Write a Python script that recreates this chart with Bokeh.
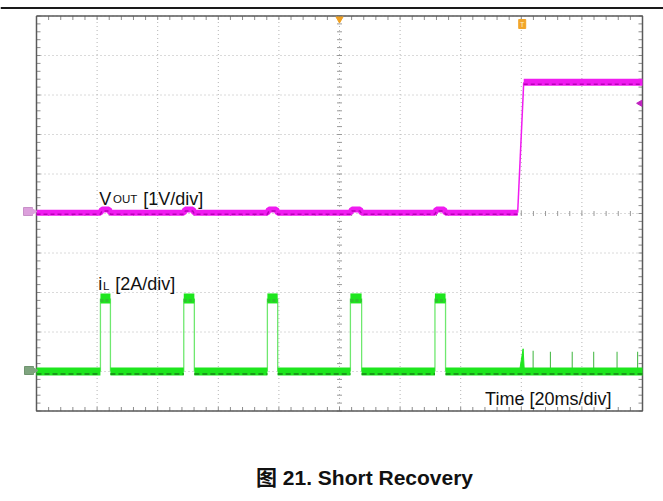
import numpy as np
from bokeh.plotting import figure
from bokeh.models import Range1d, Label
from bokeh.embed import file_html
from bokeh.resources import INLINE

# ---------------- data read from the scope capture ----------------
# horizontal: 20 ms/div, trigger at centre (0 ms), 10 x 10 divisions
time_ticks_ms = [-100, -80, -60, -40, -20, 0, 20, 40, 60, 80, 100]
div_ticks = [-5, -4, -3, -2, -1, 0, 1, 2, 3, 4, 5]
# hiccup pulses of inductor current
pulse_on_ms = [-78.9, -51.4, -23.8, 3.6, 31.5]
pulse_off_ms = [-75.6, -47.9, -20.4, 7.3, 35.0]
pulse_peak_a = [3.7, 3.7, 3.7, 3.7, 3.7]
il_idle_a = 0.0
# output voltage (1 V/div)
vout_short_v = 0.02
vout_bump_v = [0.10, 0.10, 0.10, 0.10, 0.10]
vout_rise_ms = [58.8, 60.8]
vout_final_v = 3.32
# inductor current after recovery
recovery_ms = [59.4, 60.6, 61.0]
recovery_a = [0.0, 1.15, 0.0]
ripple_ms = [63.9, 69.6, 76.8, 83.9, 91.6, 98.4]
ripple_a = [1.05, 1.0, 1.0, 1.0, 1.0, 1.0]
trigger_level_v = 2.79
trigger_mark_ms = 60.3

# channel scaling (divisions)
VOUT_V_PER_DIV, VOUT_OFFSET = 1.0, 0.0
IL_A_PER_DIV, IL_OFFSET = 2.0, -4.0


def vy(v):
    return VOUT_OFFSET + np.asarray(v, dtype=float) / VOUT_V_PER_DIV


def iy(a):
    return IL_OFFSET + np.asarray(a, dtype=float) / IL_A_PER_DIV


# ---------------- geometry (page pixels) ----------------
W, H = 663, 501
GX0, GX1, GY0, GY1 = 36.0, 642.0, 15.5, 410.5
PX_PER_MS = (GX1 - GX0) / 200.0
PX_PER_DIV = (GY1 - GY0) / 10.0


def px_ms(px):
    return px / PX_PER_MS


def px_div(px):
    return px / PX_PER_DIV


def pgx(x):
    return (x - GX0) / PX_PER_MS - 100


def pgy(y):
    return 5 - (y - GY0) / PX_PER_DIV


p = figure(width=W, height=H, output_backend="svg", toolbar_location=None,
           x_range=Range1d(pgx(0), pgx(W)), y_range=Range1d(pgy(H), pgy(0)),
           min_border=0, x_axis_location=None, y_axis_location=None)
p.background_fill_color = "white"
p.border_fill_color = "white"
p.outline_line_color = None
for g in p.grid:
    g.visible = False

minor_x = [float(v) for v in np.round(np.arange(-100, 100.01, 4), 6)]
minor_y = [float(v) for v in np.round(np.arange(-5, 5.001, 0.2), 6)]
nx, ny = len(minor_x), len(minor_y)

# dotted graticule lines
GRID = "#b4b4b4"
p.segment(x0=time_ticks_ms, y0=[-5] * 11, x1=time_ticks_ms, y1=[5] * 11,
          line_color=GRID, line_dash="1 3", line_width=1)
p.segment(x0=[-100] * 11, y0=div_ticks, x1=[100] * 11, y1=div_ticks,
          line_color=GRID, line_dash="1 3", line_width=1)

TICK = "#8c8c8c"
# border ticks (inward)
p.segment(x0=minor_x, y0=[5] * nx, x1=minor_x, y1=[5 - px_div(4)] * nx, line_color=TICK)
p.segment(x0=minor_x, y0=[-5] * nx, x1=minor_x, y1=[-5 + px_div(4)] * nx, line_color=TICK)
p.segment(x0=[-100] * ny, y0=minor_y, x1=[-100 + px_ms(4)] * ny, y1=minor_y, line_color=TICK)
p.segment(x0=[100] * ny, y0=minor_y, x1=[100 - px_ms(4)] * ny, y1=minor_y, line_color=TICK)
# centre cross-hair ticks
p.segment(x0=minor_x, y0=[-px_div(2.5)] * nx, x1=minor_x, y1=[px_div(2.5)] * nx,
          line_color="#9a9a9a")
p.segment(x0=[-px_ms(2.5)] * ny, y0=minor_y, x1=[px_ms(2.5)] * ny, y1=minor_y,
          line_color="#9a9a9a")
# border
p.line([-100, 100, 100, -100, -100], [5, 5, -5, -5, 5], line_color="#5a5a5a", line_width=1.5)

# ---------------- VOUT trace ----------------
VCOL, VDARK = "#f01cf0", "#b800b8"
vx = [-100.0]
vv = [vout_short_v]
for on, off, b in zip(pulse_on_ms, pulse_off_ms, vout_bump_v):
    vx += [on, on + 0.5, off - 0.5, off]
    vv += [vout_short_v, b, b, vout_short_v]
vx.append(vout_rise_ms[0])
vv.append(vout_short_v)
p.line(vx, vy(vv), line_color=VCOL, line_width=6)
p.line(vx, vy(vv) - px_div(1.5), line_color=VDARK, line_width=1.5, line_dash="4 3")
p.line(vout_rise_ms, vy([vout_short_v, vout_final_v]), line_color=VCOL, line_width=1.5)
p.line([vout_rise_ms[1], 100], vy([vout_final_v, vout_final_v]), line_color=VCOL, line_width=7)
p.line([vout_rise_ms[1], 100], vy([vout_final_v, vout_final_v]) - px_div(2),
       line_color=VDARK, line_width=1.5, line_dash="4 3")

# ---------------- iL trace ----------------
GCOL, GDARK, GEDGE = "#1ee61e", "#1a9a1a", "#6fe86f"
low_x0 = [-100.0] + pulse_off_ms
low_x1 = pulse_on_ms + [100.0]
n_low = len(low_x0)
y_idle = float(iy(il_idle_a))
top_y = [float(v) for v in iy(pulse_peak_a)]
p.segment(x0=pulse_on_ms, y0=[y_idle] * 5, x1=pulse_on_ms, y1=top_y,
          line_color=GEDGE, line_width=1.3)
p.segment(x0=pulse_off_ms, y0=[y_idle] * 5, x1=pulse_off_ms, y1=top_y,
          line_color=GEDGE, line_width=1.3)
p.segment(x0=ripple_ms, y0=[y_idle] * len(ripple_ms), x1=ripple_ms,
          y1=[float(v) for v in iy(ripple_a)], line_color="#3cb43c", line_width=1)
p.patch(recovery_ms, [float(v) for v in iy(recovery_a)], fill_color=GCOL,
        line_color=GCOL, line_width=1)
p.segment(x0=low_x0, y0=[y_idle] * n_low, x1=low_x1, y1=[y_idle] * n_low,
          line_color=GCOL, line_width=8, line_cap="butt")
p.segment(x0=low_x0, y0=[y_idle - px_div(2.5)] * n_low, x1=low_x1,
          y1=[y_idle - px_div(2.5)] * n_low,
          line_color=GDARK, line_width=2, line_dash="5 3", line_cap="butt")
p.segment(x0=pulse_on_ms, y0=top_y, x1=pulse_off_ms, y1=top_y,
          line_color=GCOL, line_width=10, line_cap="butt")
p.segment(x0=pulse_on_ms, y0=[t - px_div(2) for t in top_y], x1=pulse_off_ms,
          y1=[t - px_div(2) for t in top_y],
          line_color="#30c030", line_width=3, line_dash="3 2", line_cap="butt")

# ---------------- markers ----------------
p.scatter([0], [5 - px_div(3)], marker="inverted_triangle", size=7,
          fill_color="#f0a020", line_color="#f0a020")
p.scatter([99.2], [float(vy(trigger_level_v))], marker="triangle", angle=np.pi / 2,
          size=6, fill_color="#c020c0", line_color="#c020c0")
# trigger 'T' marker
p.rect([trigger_mark_ms], [pgy(23.5)], width=7, height=9, width_units="screen",
       height_units="screen", fill_color="#f2a52a", line_color="#f2a52a")
p.text([trigger_mark_ms], [pgy(23.5)], text=["T"], text_font_size="7px",
       text_color="#fff0c8", text_align="center", text_baseline="middle")
# channel ground markers
p.rect([pgx(27.5)], [pgy(211)], width=9, height=8, width_units="screen",
       height_units="screen", fill_color="#dca0dc", line_color="#c890c8")
p.scatter([pgx(32.5)], [pgy(211)], marker="triangle", angle=-np.pi / 2, size=7,
          fill_color="#dca0dc", line_color="#dca0dc")
p.rect([pgx(28.5)], [pgy(370)], width=9, height=8, width_units="screen",
       height_units="screen", fill_color="#7fa47f", line_color="#6f946f")
p.scatter([pgx(33.5)], [pgy(370)], marker="triangle", angle=-np.pi / 2, size=7,
          fill_color="#7fa47f", line_color="#7fa47f")

# ---------------- texts ----------------
F = "Liberation Sans"


def lab(x, y, s, size, **kw):
    p.add_layout(Label(x=pgx(x), y=pgy(y), text=s, text_font=F, text_font_size=size,
                       text_color="#111111", text_baseline="alphabetic", **kw))


lab(98.8, 198.0, "V", "18px")
lab(112.6, 198.3, "OUT", "11.5px")
lab(142.7, 198.0, "[1V/div]", "18px")
lab(97.7, 283.3, "i", "18px")
lab(102.4, 285.0, "L", "11.5px")
lab(114.7, 283.3, "[2A/div]", "18px")
lab(484.6, 398.3, "Time [20ms/div]", "18px")

p.add_layout(Label(x=pgx(364), y=pgy(477), text="图 21. Short Recovery",
                   text_font="Liberation Sans, Noto Sans CJK SC", text_font_style="bold",
                   text_font_size="21px", text_color="#111111", text_align="center",
                   text_baseline="middle"))

# top rule of the page
p.segment(x0=[pgx(0)], y0=[pgy(7.5)], x1=[pgx(W)], y1=[pgy(7.5)],
          line_color="#1a1a1a", line_width=2)

open("out.html", "w").write(file_html(p, INLINE))
